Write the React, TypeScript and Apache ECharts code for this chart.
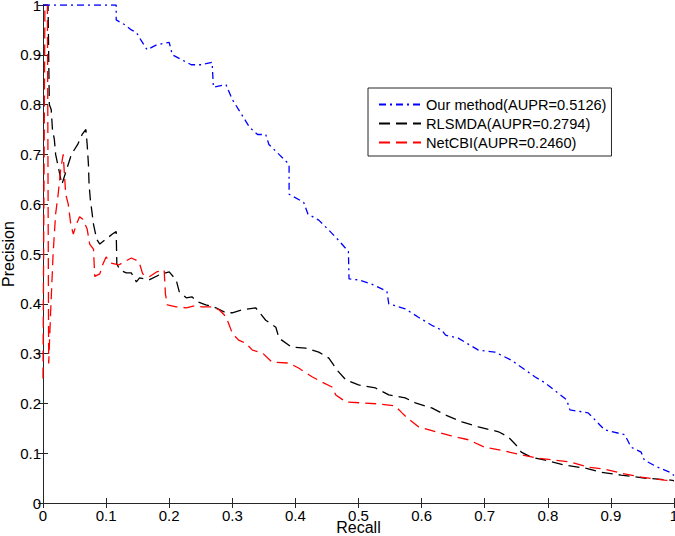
import React, { useEffect, useRef } from "react";
import * as echarts from "echarts";

const recallTicks = [0, 0.1, 0.2, 0.3, 0.4, 0.5, 0.6, 0.7, 0.8, 0.9, 1];

const seriesNames = [
  "Our method(AUPR=0.5126)",
  "RLSMDA(AUPR=0.2794)",
  "NetCBI(AUPR=0.2460)",
];

// [recall, precision]
const ourMethod: number[][] = [
  [0, 1], [0.116, 1], [0.116, 0.97], [0.13, 0.96], [0.14, 0.95], [0.148, 0.945],
  [0.155, 0.93], [0.165, 0.91], [0.18, 0.92], [0.2, 0.925], [0.205, 0.9],
  [0.22, 0.89], [0.235, 0.88], [0.25, 0.88], [0.268, 0.885], [0.27, 0.835],
  [0.29, 0.84], [0.3, 0.81], [0.31, 0.79], [0.327, 0.755], [0.34, 0.74],
  [0.353, 0.74], [0.358, 0.72], [0.374, 0.7], [0.39, 0.68], [0.39, 0.62],
  [0.413, 0.604], [0.42, 0.58], [0.437, 0.568], [0.453, 0.548], [0.468, 0.528],
  [0.484, 0.505], [0.485, 0.45], [0.5, 0.448], [0.52, 0.44], [0.545, 0.425],
  [0.548, 0.4], [0.574, 0.39], [0.595, 0.373], [0.616, 0.357], [0.632, 0.347],
  [0.638, 0.337], [0.658, 0.331], [0.69, 0.307], [0.716, 0.303], [0.742, 0.287],
  [0.78, 0.253], [0.796, 0.241], [0.83, 0.207], [0.835, 0.187], [0.864, 0.181],
  [0.89, 0.147], [0.922, 0.137], [0.932, 0.112], [0.948, 0.102], [0.953, 0.086],
  [0.974, 0.072], [0.993, 0.062], [1, 0.055],
];

const rlsmda: number[][] = [
  [0, 1], [0.008, 1], [0.01, 0.8], [0.013, 0.79], [0.015, 0.75], [0.018, 0.73],
  [0.02, 0.7], [0.025, 0.67], [0.03, 0.64], [0.035, 0.66], [0.045, 0.7],
  [0.055, 0.72], [0.062, 0.74], [0.068, 0.75], [0.07, 0.72], [0.072, 0.68],
  [0.073, 0.64], [0.075, 0.61], [0.078, 0.58], [0.08, 0.56], [0.085, 0.53],
  [0.09, 0.52], [0.1, 0.53], [0.11, 0.54], [0.116, 0.545], [0.117, 0.48],
  [0.122, 0.468], [0.132, 0.462], [0.14, 0.462], [0.148, 0.444], [0.153, 0.452],
  [0.168, 0.448], [0.184, 0.458], [0.2, 0.464], [0.211, 0.448], [0.216, 0.424],
  [0.227, 0.412], [0.236, 0.414], [0.245, 0.404], [0.258, 0.398], [0.274, 0.392],
  [0.29, 0.382], [0.3, 0.382], [0.316, 0.388], [0.337, 0.392], [0.353, 0.367],
  [0.369, 0.353], [0.374, 0.331], [0.394, 0.313], [0.416, 0.311], [0.437, 0.303],
  [0.453, 0.291], [0.466, 0.267], [0.48, 0.247], [0.5, 0.237], [0.527, 0.231],
  [0.548, 0.217], [0.574, 0.211], [0.59, 0.201], [0.616, 0.191], [0.637, 0.177],
  [0.664, 0.163], [0.69, 0.153], [0.722, 0.143], [0.737, 0.133], [0.753, 0.112],
  [0.758, 0.102], [0.774, 0.092], [0.796, 0.086], [0.827, 0.076], [0.859, 0.07],
  [0.884, 0.062], [0.916, 0.056], [0.953, 0.05], [0.995, 0.046], [1, 0.045],
];

const netcbi: number[][] = [
  [0, 0.25], [0.003, 1], [0.007, 1], [0.009, 0.28], [0.012, 0.38], [0.016, 0.5],
  [0.02, 0.58], [0.024, 0.62], [0.028, 0.67], [0.032, 0.7], [0.034, 0.66],
  [0.036, 0.62], [0.04, 0.6], [0.044, 0.56], [0.048, 0.54], [0.053, 0.56],
  [0.058, 0.575], [0.063, 0.57], [0.07, 0.55], [0.074, 0.52], [0.08, 0.51],
  [0.082, 0.455], [0.09, 0.46], [0.095, 0.48], [0.1, 0.494], [0.107, 0.482],
  [0.12, 0.478], [0.14, 0.492], [0.152, 0.485], [0.158, 0.46], [0.168, 0.454],
  [0.18, 0.464], [0.192, 0.468], [0.194, 0.42], [0.197, 0.398], [0.211, 0.394],
  [0.227, 0.392], [0.24, 0.396], [0.252, 0.394], [0.268, 0.394], [0.279, 0.388],
  [0.29, 0.374], [0.3, 0.341], [0.31, 0.327], [0.321, 0.321], [0.332, 0.307],
  [0.348, 0.301], [0.363, 0.283], [0.39, 0.281], [0.405, 0.271], [0.427, 0.253],
  [0.442, 0.243], [0.458, 0.233], [0.464, 0.217], [0.48, 0.203], [0.505, 0.201],
  [0.532, 0.199], [0.558, 0.195], [0.569, 0.181], [0.577, 0.171], [0.595, 0.153],
  [0.622, 0.143], [0.647, 0.135], [0.674, 0.127], [0.7, 0.112], [0.726, 0.106],
  [0.753, 0.098], [0.785, 0.09], [0.811, 0.086], [0.837, 0.082], [0.864, 0.072],
  [0.89, 0.068], [0.916, 0.06], [0.948, 0.052], [0.985, 0.046], [1, 0.044],
];

const FONT = "'Liberation Sans', Arial, Helvetica, sans-serif";
const AXIS_COLOR = "#262626";

export default function App() {
  const ref = useRef<HTMLDivElement>(null);

  useEffect(() => {
    if (!ref.current) return;
    const chart = echarts.init(ref.current, undefined, { renderer: "svg" });

    const baseAxis = {
      type: "value" as const,
      min: recallTicks[0],
      max: recallTicks[recallTicks.length - 1],
      interval: 0.1,
      splitLine: { show: false },
      axisLine: { show: true, lineStyle: { color: AXIS_COLOR, width: 1 } },
      axisTick: { show: true, inside: true, length: 5, lineStyle: { color: AXIS_COLOR, width: 1 } },
    };

    chart.setOption({
      animation: false,
      backgroundColor: "#ffffff",
      textStyle: { fontFamily: FONT },
      grid: {
        left: 43,
        right: 1,
        top: 5,
        bottom: 33,
        containLabel: false,
        outerBoundsMode: "none",
      },
      legend: {
        show: true,
        orient: "vertical",
        left: 368,
        top: 88,
        selectedMode: false,
        backgroundColor: "#ffffff",
        borderColor: AXIS_COLOR,
        borderWidth: 1,
        borderRadius: 0,
        padding: [9, 5, 6, 10],
        itemWidth: 42,
        itemHeight: 14,
        itemGap: 4,
        itemStyle: { opacity: 0 },
        textStyle: { fontFamily: FONT, fontSize: 14.6, color: "#000" },
        data: seriesNames,
      },
      xAxis: [
        {
          ...baseAxis,
          position: "bottom",
          name: "Recall",
          nameLocation: "middle",
          nameGap: 16,
          nameMoveOverlap: false,
          nameTextStyle: { fontFamily: FONT, fontSize: 16, color: "#000" },
          axisLabel: { show: true, margin: 5, fontSize: 15, color: "#000", fontFamily: FONT },
        },
        {
          ...baseAxis,
          position: "top",
          axisLabel: { show: false },
        },
      ],
      yAxis: [
        {
          ...baseAxis,
          position: "left",
          name: "Precision",
          nameLocation: "middle",
          nameRotate: 90,
          nameGap: 27,
          nameMoveOverlap: false,
          nameTextStyle: { fontFamily: FONT, fontSize: 16, color: "#000" },
          axisLabel: { show: true, margin: 2, fontSize: 15, color: "#000", fontFamily: FONT },
        },
        {
          ...baseAxis,
          position: "right",
          axisLabel: { show: false },
        },
      ],
      series: [
        {
          name: seriesNames[0],
          type: "line",
          data: ourMethod,
          symbol: "none",
          lineStyle: { color: "#0000ff", width: 1.3, type: [7, 4, 2, 4] },
          itemStyle: { color: "#0000ff" },
          z: 3,
        },
        {
          name: seriesNames[1],
          type: "line",
          data: rlsmda,
          symbol: "none",
          lineStyle: { color: "#000000", width: 1.3, type: [11, 6] },
          itemStyle: { color: "#000000" },
          z: 2,
        },
        {
          name: seriesNames[2],
          type: "line",
          data: netcbi,
          symbol: "none",
          lineStyle: { color: "#ff0000", width: 1.3, type: [11, 6] },
          itemStyle: { color: "#ff0000" },
          z: 2,
        },
      ],
    });

    return () => chart.dispose();
  }, []);

  return (
    <div
      ref={ref}
      style={{ position: "fixed", left: 0, top: 0, width: 675, height: 536, background: "#fff" }}
    />
  );
}
